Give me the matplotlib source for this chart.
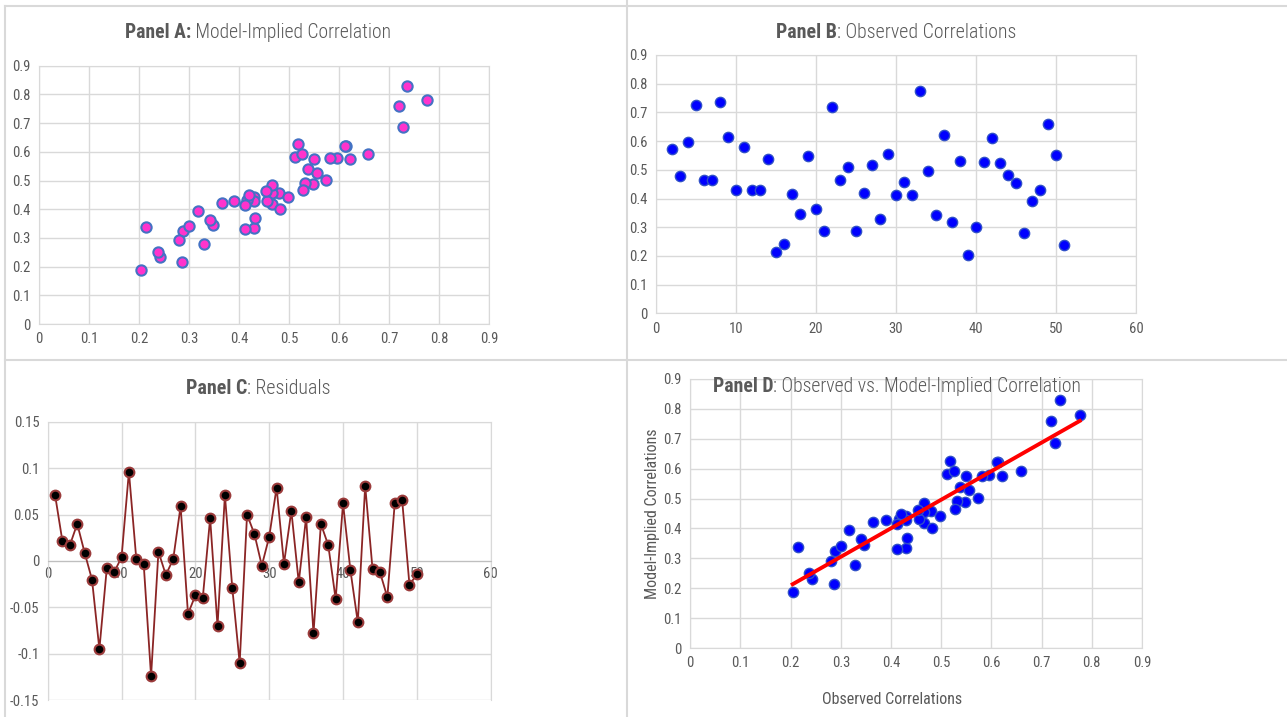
import numpy as np
import matplotlib
matplotlib.use('Agg')
import matplotlib.pyplot as plt
from matplotlib import font_manager
from matplotlib.lines import Line2D

# observed correlations, pair index 2..51
observed = [0.574, 0.479, 0.596, 0.727, 0.465, 0.465, 0.736, 0.613, 0.430, 0.581,
            0.430, 0.430, 0.537, 0.214, 0.242, 0.416, 0.347, 0.547, 0.365, 0.288,
            0.719, 0.465, 0.511, 0.286, 0.419, 0.517, 0.329, 0.556, 0.411, 0.456,
            0.411, 0.776, 0.497, 0.341, 0.622, 0.317, 0.531, 0.204, 0.300, 0.528,
            0.611, 0.525, 0.482, 0.454, 0.280, 0.390, 0.431, 0.658, 0.550, 0.237]
obs_index = list(range(2, 52))

# model-implied correlations (same pairs)
model = [0.503, 0.458, 0.579, 0.687, 0.456, 0.485, 0.831, 0.621, 0.442, 0.577,
         0.334, 0.428, 0.540, 0.338, 0.232, 0.431, 0.345, 0.488, 0.422, 0.325,
         0.759, 0.419, 0.581, 0.215, 0.448, 0.627, 0.279, 0.527, 0.416, 0.430,
         0.332, 0.779, 0.443, 0.364, 0.575, 0.395, 0.491, 0.187, 0.341, 0.466,
         0.621, 0.591, 0.401, 0.463, 0.292, 0.429, 0.369, 0.592, 0.576, 0.251]

# residuals, index 1..50
residuals = [0.071, 0.021, 0.017, 0.040, 0.009, -0.020, -0.095, -0.008, -0.012, 0.004,
             0.096, 0.002, -0.003, -0.124, 0.010, -0.015, 0.002, 0.059, -0.057, -0.037,
             -0.040, 0.046, -0.070, 0.071, -0.029, -0.110, 0.050, 0.029, -0.005, 0.026,
             0.079, -0.003, 0.054, -0.023, 0.047, -0.078, 0.040, 0.017, -0.041, 0.062,
             -0.010, -0.066, 0.081, -0.009, -0.012, -0.039, 0.062, 0.066, -0.026, -0.014]
res_index = list(range(1, 51))

# look for a narrow face, otherwise plain Liberation Sans
FONT, STRETCH = 'Liberation Sans', 'normal'
fonts = font_manager.fontManager.ttflist
for want in ['Liberation Sans Narrow', 'Roboto Condensed', 'Open Sans Condensed', 'DejaVu Sans Condensed']:
    if any(f.name == want for f in fonts):
        FONT = want
        break
else:
    for fam in ['Roboto', 'Open Sans', 'Noto Sans', 'DejaVu Sans']:
        if any(f.name == fam and str(f.stretch) in ('condensed', 'semi-condensed', '75', '87.5') for f in fonts):
            FONT, STRETCH = fam, 'condensed'
            break
plt.rcParams['font.family'] = [FONT, 'DejaVu Sans']
plt.rcParams['font.stretch'] = STRETCH

TXT = '#595959'
GRID = '#d9d9d9'
W, H = 1287, 717

fig = plt.figure(figsize=(W / 100, H / 100), dpi=100)


def px_axes(x0, y0, x1, y1):
    # pixel box (top-left origin) -> figure axes
    return fig.add_axes([x0 / W, 1 - y1 / H, (x1 - x0) / W, (y1 - y0) / H])


def style(ax):
    ax.grid(True, color=GRID, linewidth=1)
    ax.set_axisbelow(True)
    for s in ax.spines.values():
        s.set_color(GRID)
    ax.tick_params(length=0, labelsize=10.5, colors=TXT, pad=6)


def fmt(v):
    return '0' if v == 0 else ('%g' % round(v, 2))


def title(xc, yc, target_w, bold, rest):
    r = fig.canvas.get_renderer()
    t1 = fig.text(0, 0, bold, fontsize=15, weight='bold', color=TXT, va='center')
    t2 = fig.text(0, 0, rest, fontsize=15, weight='light', color=TXT, va='center')
    w = t1.get_window_extent(r).width + t2.get_window_extent(r).width
    size = min(15, 15 * target_w / w * 1.1)
    t1.set_fontsize(size)
    t2.set_fontsize(size)
    w1 = t1.get_window_extent(r).width
    w2 = t2.get_window_extent(r).width
    x0 = xc - (w1 + w2) / 2
    t1.set_position((x0 / W, 1 - yc / H))
    t2.set_position(((x0 + w1) / W, 1 - yc / H))


ticks9 = np.arange(0, 0.91, 0.1)
ticks60 = np.arange(0, 61, 10)

# Panel A
axA = px_axes(39, 65.7, 489.3, 324)
axA.scatter(observed, model, s=55, facecolor='#ff33cc', edgecolor='#4472c4', linewidth=1.5, zorder=3)
axA.set_xlim(0, 0.9)
axA.set_ylim(0, 0.9)
axA.set_xticks(ticks9)
axA.set_yticks(ticks9)
axA.set_xticklabels([fmt(v) for v in ticks9])
axA.set_yticklabels([fmt(v) for v in ticks9])
style(axA)

# Panel B
axB = px_axes(656, 55, 1136, 313.3)
axB.scatter(obs_index, observed, s=55, facecolor='#0000ff', edgecolor='#3050c8', linewidth=1, zorder=3)
axB.set_xlim(0, 60)
axB.set_ylim(0, 0.9)
axB.set_xticks(ticks60)
axB.set_yticks(ticks9)
axB.set_yticklabels([fmt(v) for v in ticks9])
style(axB)

# Panel C
axC = px_axes(47.7, 421.7, 490.7, 700.3)
axC.plot(res_index, residuals, color='#8b2525', linewidth=1.3, marker='o', markersize=7,
         markerfacecolor='black', markeredgecolor='#9b3b3b', markeredgewidth=1.5, zorder=3)
axC.set_xlim(0, 60)
axC.set_ylim(-0.15, 0.15)
axC.set_xticks(ticks60)
ticksC = np.arange(-0.15, 0.151, 0.05)
axC.set_yticks(ticksC)
axC.set_yticklabels([fmt(v) for v in ticksC])
style(axC)
axC.spines['bottom'].set_position(('data', 0))
axC.spines['bottom'].set_color('#bfbfbf')
axC.tick_params(axis='x', pad=4)

# Panel D
axD = px_axes(690.3, 379, 1142, 648)
axD.scatter(observed, model, s=55, facecolor='#0000ff', edgecolor='#3050c8', linewidth=1, zorder=3)
slope, icpt = np.polyfit(observed, model, 1)
xl = np.array([min(observed), max(observed)])
axD.plot(xl, slope * xl + icpt, color='#ff0000', linewidth=2.8, zorder=4)
axD.set_xlim(0, 0.9)
axD.set_ylim(0, 0.9)
axD.set_xticks(ticks9)
axD.set_yticks(ticks9)
axD.set_xticklabels([fmt(v) for v in ticks9])
axD.set_yticklabels([fmt(v) for v in ticks9])
style(axD)
fig.text(892 / W, 1 - 700 / H, 'Observed Correlations', fontsize=11.5, color=TXT, ha='center', va='center')
fig.text(652 / W, 1 - 514 / H, 'Model-Implied Correlations', fontsize=11.5, color=TXT,
         ha='center', va='center', rotation=90)

title(258, 33, 243, 'Panel A:', ' Model-Implied Correlation')
title(896, 33, 218, 'Panel B', ': Observed Correlations')
title(258, 388, 132, 'Panel C', ': Residuals')
title(897, 387, 337, 'Panel D', ': Observed vs. Model-Implied Correlation')

# chart area borders
for xs, ys in [([5, 5], [6, H]), ([5, W], [6, 6]), ([626.5, 626.5], [0, H]), ([5, W], [360, 360])]:
    fig.add_artist(Line2D([x / W for x in xs], [1 - y / H for y in ys], color=GRID, linewidth=1.5))

fig.savefig('out.png', dpi=100)
